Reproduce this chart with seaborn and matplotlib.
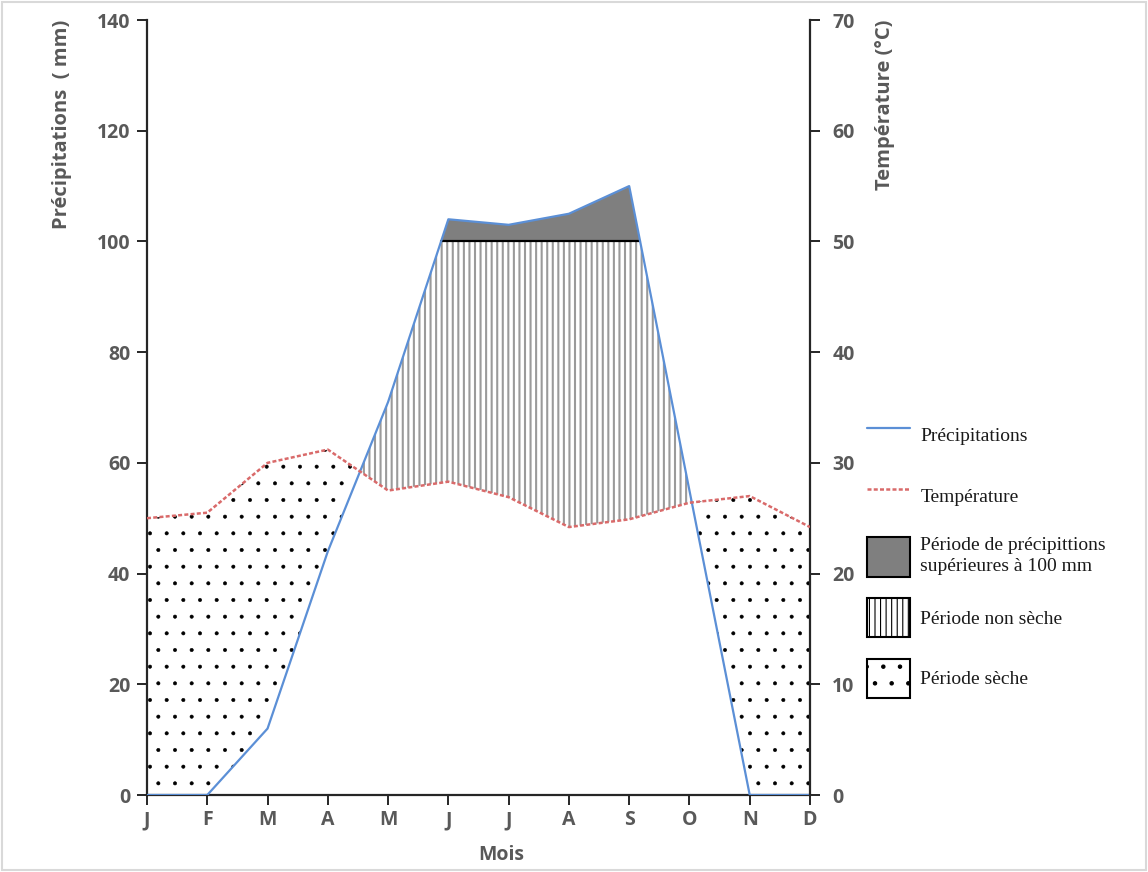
import numpy as np
import pandas as pd
import matplotlib
matplotlib.use("Agg")
import matplotlib.pyplot as plt
import seaborn as sns
from matplotlib.lines import Line2D
from matplotlib.patches import Patch, Rectangle

# ---- data ----
months = ["J", "F", "M", "A", "M", "J", "J", "A", "S", "O", "N", "D"]
precip = [0, 0, 12, 44, 71, 104, 103, 105, 110, 55, 0, 0]          # mm
temp = [25, 25.5, 30, 31.2, 27.5, 28.3, 26.9, 24.2, 24.9, 26.4, 27, 24.2]  # °C
threshold = 100

sns.set_theme(style="white")
plt.rcParams["font.family"] = ["Open Sans", "DejaVu Sans"]
plt.rcParams["hatch.linewidth"] = 1.5

df = pd.DataFrame({"pos": np.arange(len(months)), "P": precip, "T": temp})
x = df["pos"].to_numpy(dtype=float)
P = df["P"].to_numpy(dtype=float)
T2 = 2 * df["T"].to_numpy(dtype=float)

fig = plt.figure(figsize=(11.48, 8.72), dpi=100)
ax = fig.add_axes([147 / 1148, 77 / 872, 663 / 1148, 775 / 872])
ax2 = ax.twinx()

gray_txt = "#595959"
blue = "#5b8fd6"
red = "#d96a6a"
vgray = "#9a9a9a"

# non-dry period (vertical hatch)
ax.fill_between(x, T2, P, where=P > T2, interpolate=True, facecolor="none",
                edgecolor=vgray, hatch="|||", linewidth=0, zorder=1)
# dry period (dots)
with plt.rc_context({"hatch.linewidth": 0.4}):
    dry = ax.fill_between(x, P, T2, where=P < T2, interpolate=True, facecolor="none",
                          edgecolor="black", hatch=".", linewidth=0, zorder=1)
    if hasattr(dry, "set_hatch_linewidth"):
        dry.set_hatch_linewidth(0.4)
# above 100 mm
ax.fill_between(x, threshold, P, where=P > threshold, interpolate=True,
                facecolor="#7f7f7f", edgecolor="none", linewidth=0, zorder=2)
# black line at 100 mm between crossings
above = P > threshold
idx = np.where(above)[0]
i0, i1 = idx[0], idx[-1]
xa = x[i0 - 1] + (threshold - P[i0 - 1]) / (P[i0] - P[i0 - 1])
xb = x[i1] + (P[i1] - threshold) / (P[i1] - P[i1 + 1])
ax.plot([xa, xb], [threshold, threshold], color="black", lw=1.6, zorder=3)

sns.lineplot(data=df, x="pos", y="P", ax=ax, color=blue, lw=1.6, legend=False, zorder=4)
sns.lineplot(data=df, x="pos", y="T", ax=ax2, color=red, lw=1.8, legend=False,
             dashes=False, zorder=4)
ax2.lines[0].set_linestyle((0, (1.6, 0.9)))

ax.set_xlim(0, 11)
ax.set_ylim(0, 140)
ax2.set_ylim(0, 70)
ax.set_xticks(x)
ax.set_xticklabels(months)
ax.set_yticks(np.arange(0, 141, 20))
ax2.set_yticks(np.arange(0, 71, 10))

for a in (ax, ax2):
    a.set_xlabel("")
    a.set_ylabel("")
    a.spines["top"].set_visible(False)
    for s in a.spines.values():
        s.set_color("#262626")
        s.set_linewidth(1.6)
    for lbl in a.get_xticklabels() + a.get_yticklabels():
        lbl.set_fontsize(14)
        lbl.set_fontweight("bold")
        lbl.set_color(gray_txt)
ax.spines["right"].set_visible(False)
ax2.spines["left"].set_visible(False)
ax2.spines["bottom"].set_visible(False)
ax.tick_params(axis="both", which="both", direction="out", length=7, width=1.4,
               color="#262626", left=True, bottom=True)
ax.tick_params(axis="y", pad=5)
ax.tick_params(axis="x", pad=4)
ax2.tick_params(axis="y", direction="out", length=7, width=1.4, color="#262626",
                right=True, pad=9)

ax.text(-0.128, 1.0, "Précipitations  ( mm)", transform=ax.transAxes, rotation=90,
        ha="center", va="top", fontsize=14.5, fontweight="bold", color=gray_txt)
ax.text(1.113, 1.0, "Température (°C)", transform=ax.transAxes, rotation=90,
        ha="center", va="top", fontsize=14.5, fontweight="bold", color=gray_txt)
ax.text(0.535, -0.077, "Mois", transform=ax.transAxes, ha="center", va="center",
        fontsize=14, fontweight="bold", color=gray_txt)

handles = [
    Line2D([0], [0], color=blue, lw=1.6),
    Line2D([0], [0], color=red, lw=1.8, linestyle=(0, (1.6, 0.9))),
    Patch(facecolor="#7f7f7f", edgecolor="black", linewidth=1.5),
    Patch(facecolor="white", edgecolor="black", hatch="|||", linewidth=1.5),
]
with plt.rc_context({"hatch.linewidth": 0.4}):
    dot_patch = Patch(facecolor="white", edgecolor="black", hatch=".", linewidth=1.5)
handles.append(dot_patch)
labels = ["Précipitations", "Température",
          "Période de précipittions\nsupérieures à 100 mm",
          "Période non sèche", "Période sèche"]
with plt.rc_context({"hatch.linewidth": 0.8}):
    leg = fig.legend(handles, labels, loc="upper left",
                     bbox_to_anchor=(857 / 1148, 1 - 406 / 872),
                     frameon=False, handlelength=2.2, handleheight=2.74,
                     handletextpad=0.55, labelspacing=1.1, borderpad=0,
                     prop={"family": "Liberation Serif", "size": 14})
for t in leg.get_texts():
    t.set_color("#1a1a1a")
    t.set_linespacing(1.3)

fig.patches.append(Rectangle((0.002, 0.002), 0.996, 0.996, transform=fig.transFigure,
                             fill=False, edgecolor="#d9d9d9", lw=1.5))

fig.savefig("out.png", dpi=100)
